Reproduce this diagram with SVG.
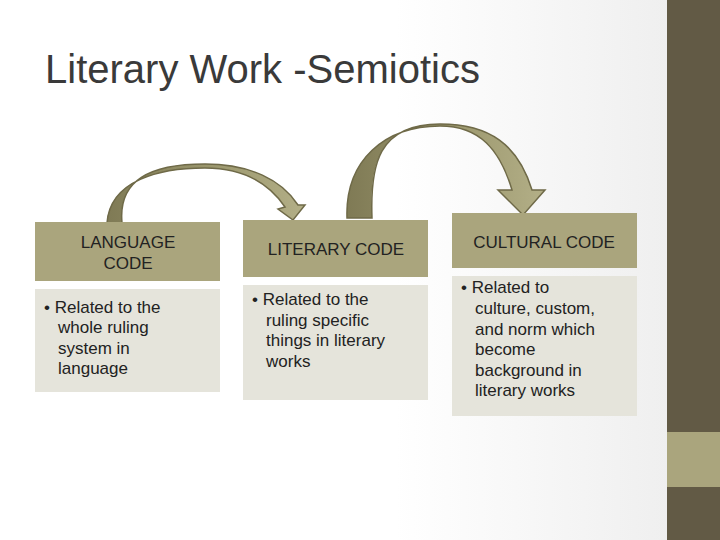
<svg xmlns="http://www.w3.org/2000/svg" width="720" height="540" viewBox="0 0 720 540">
<defs>
<linearGradient id="bg" x1="0" x2="1" y1="0" y2="0"><stop offset="0.55" stop-color="#ffffff"/><stop offset="1" stop-color="#ececec"/></linearGradient>
<linearGradient id="ar" x1="0" x2="1" y1="0" y2="0"><stop offset="0" stop-color="#7f7a55"/><stop offset="0.5" stop-color="#9a966c"/><stop offset="1" stop-color="#b3af87"/></linearGradient>
<style>
.hd{fill:#aaa57d}.bd{fill:#e5e4db}
.t{font-family:"Liberation Sans",Arial,sans-serif;font-size:17px;fill:#222}
.h{font-family:"Liberation Sans",Arial,sans-serif;font-size:17px;fill:#222;text-anchor:middle}
.arr{fill:url(#ar);stroke:#6f6a48;stroke-width:1.5}
</style>
</defs>
<rect width="720" height="540" fill="url(#bg)"/>
<rect x="667" y="0" width="53" height="540" fill="#625a45"/>
<rect x="667" y="432" width="53" height="55" fill="#aaa57d"/>
<text x="45" y="83" font-family="Liberation Sans,Arial,sans-serif" font-size="40" fill="#3a3a3a">Literary Work -Semiotics</text>
<g id="connectors">
<path class="arr" d="M107,223 C110,180 160,168 205,168 C245,168 270,185 285,207 L278,209 L293,220 L305,205 L298,205 C282,180 250,164 205,164 C150,164 118,180 122,223 Z" transform="translate(0,0)"/>
<path class="arr" d="M347,218 C345,160 385,126 440,126 C480,126 500,150 512,190 L498,190 L523,215 L545,190 L532,190 C518,145 490,124 440,124 C378,124 370,165 372,218 Z"/>
</g>
<g id="n1">
<rect class="hd" x="35" y="222" width="185" height="59"/>
<rect class="bd" x="35" y="289" width="185" height="103"/>
<text class="h" x="128" y="248">LANGUAGE</text><text class="h" x="128" y="269">CODE</text>
<text class="t" x="44" y="313">• Related to the</text><text class="t" x="58" y="333">whole ruling</text><text class="t" x="58" y="354">system in</text><text class="t" x="58" y="374">language</text>
</g>
<g id="n2">
<rect class="hd" x="243" y="220" width="185" height="57"/>
<rect class="bd" x="243" y="285" width="185" height="115"/>
<text class="h" x="336" y="255">LITERARY CODE</text>
<text class="t" x="252" y="305">• Related to the</text><text class="t" x="266" y="326">ruling specific</text><text class="t" x="266" y="346">things in literary</text><text class="t" x="266" y="367">works</text>
</g>
<g id="n3">
<rect class="hd" x="452" y="213" width="185" height="55"/>
<rect class="bd" x="452" y="276" width="185" height="140"/>
<text class="h" x="544" y="248">CULTURAL CODE</text>
<text class="t" x="461" y="293">• Related to</text><text class="t" x="475" y="314">culture, custom,</text><text class="t" x="475" y="335">and norm which</text><text class="t" x="475" y="355">become</text><text class="t" x="475" y="376">background in</text><text class="t" x="475" y="396">literary works</text>
</g>
</svg>
